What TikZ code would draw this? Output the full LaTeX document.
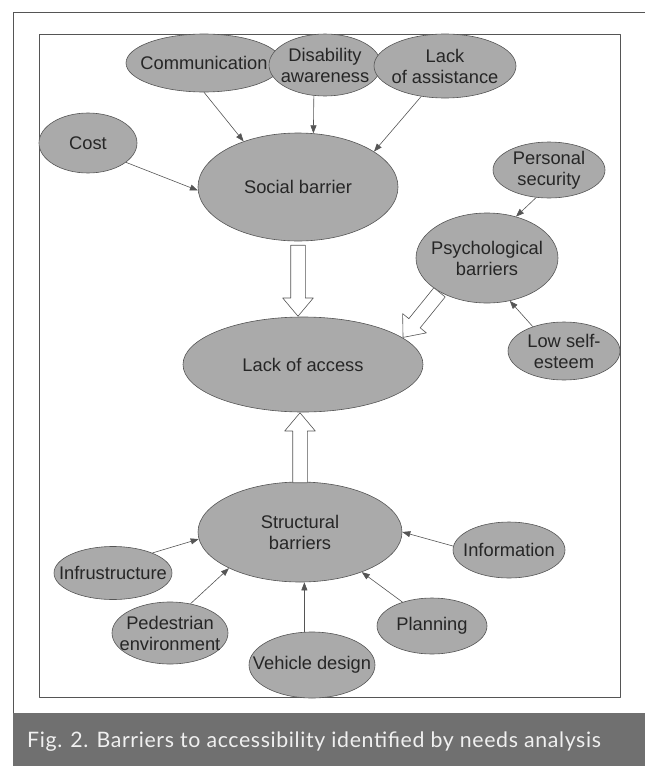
\documentclass[tikz,border=0pt]{standalone}
\usepackage{fontspec}
\setmainfont{Liberation Sans}
\newfontfamily\capfont[LetterSpace=3]{Lato}
\usetikzlibrary{arrows.meta,shapes.geometric,shapes.arrows}

\definecolor{bubgray}{RGB}{170,170,170}
\definecolor{linegray}{RGB}{85,85,85}
\definecolor{bargray}{RGB}{112,112,112}

\begin{document}
\begin{tikzpicture}[x=1pt,y=-1pt,>={Triangle[length=8pt,width=6pt]},line join=round,
  bub/.style={ellipse,draw=linegray,line width=0.6pt,fill=bubgray,inner xsep=-40pt,inner ysep=-25pt,
    align=center,text=black!85,font=\fontsize{18.3}{21}\selectfont},
  link/.style={->,linegray,line width=0.6pt},
  hollow/.style={single arrow,draw=linegray,fill=white,line width=0.6pt,minimum width=0pt,
    inner xsep=0pt,inner ysep=7pt,single arrow head extend=8pt,single arrow tip angle=80}]
  \useasboundingbox (0,0) rectangle (645,766);

  % frames and caption
  \fill[bargray] (13,713) rectangle (645,766);
  \draw[linegray,line width=0.8pt] (645,12) -- (13,12) -- (13,713);
  \draw[linegray,line width=0.6pt] (39,34) rectangle (620,697);
  \node[anchor=base west,inner sep=0pt,text=white!94!black,font=\capfont\fontsize{21.3}{24}\selectfont]
    (cap) at (27,747) {Fig. 2. Barriers to accessibility identified by needs analysis};

  % social side
  \node[bub,minimum width=156pt,minimum height=58pt] (com) at (204,63) {Communication};
  \node[bub,minimum width=112pt,minimum height=62pt] (dis) at (325,65) {Disability\\awareness};
  \node[bub,minimum width=142pt,minimum height=64pt] (las) at (445,66) {Lack\\of assistance};
  \node[bub,minimum width=98pt,minimum height=60pt] (cost) at (88,143) {Cost};
  \node[bub,minimum width=200pt,minimum height=108pt] (soc) at (298,187) {Social barrier};

  % psychological side
  \node[bub,minimum width=112pt,minimum height=56pt] (psec) at (549,170) {Personal\\security};
  \node[bub,minimum width=142pt,minimum height=90pt] (psy) at (487,258) {Psychological\\barriers};
  \node[bub,minimum width=112pt,minimum height=58pt] (low) at (564,351) {Low self-\\esteem};

  % centre
  \node[bub,minimum width=240pt,minimum height=95pt] (acc) at (303,364.5) {Lack of access};

  % structural side
  \node[bub,minimum width=204pt,minimum height=100pt] (str) at (300,532) {Structural\\barriers};
  \node[bub,minimum width=112pt,minimum height=56pt] (info) at (509,550) {Information};
  \node[bub,minimum width=118pt,minimum height=53pt] (inf) at (113,573) {Infrustructure};
  \node[bub,minimum width=110pt,minimum height=56pt] (pla) at (432,626) {Planning};
  \node[bub,minimum width=116pt,minimum height=62pt] (ped) at (170,633) {Pedestrian\\environment};
  \node[bub,minimum width=126pt,minimum height=66pt] (veh) at (312,665) {Vehicle design};

  % thin arrows
  \draw[link] (cost.-27) -- (soc.182);
  \draw[link] (com.south) -- (soc.140);
  \draw[link] (dis.250) -- (soc.74);
  \draw[link] (las.232) -- (soc.25);
  \draw[link] (psec.245) -- (psy.55);
  \draw[link] (low.142) -- (psy.298);
  \draw[link] (inf.27) -- (str.184);
  \draw[link] (ped.55) -- (str.207);
  \draw[link] (veh.103) -- (veh.103 |- str.south);
  \draw[link] (pla.141) -- (str.327);
  \draw[link] (info.176) -- (str.east);

  % block arrows into lack of access
  \node[hollow,rotate=-90,anchor=tip,minimum height=71pt] (dn) at (soc.south |- acc.north) {};
  \node[hollow,rotate=90,anchor=tip,minimum height=70pt] (up) at (str.north |- acc.south) {};
  \node[hollow,rotate=231,anchor=tip,minimum height=58pt] (dg) at (acc.15) {};
\end{tikzpicture}
\end{document}
